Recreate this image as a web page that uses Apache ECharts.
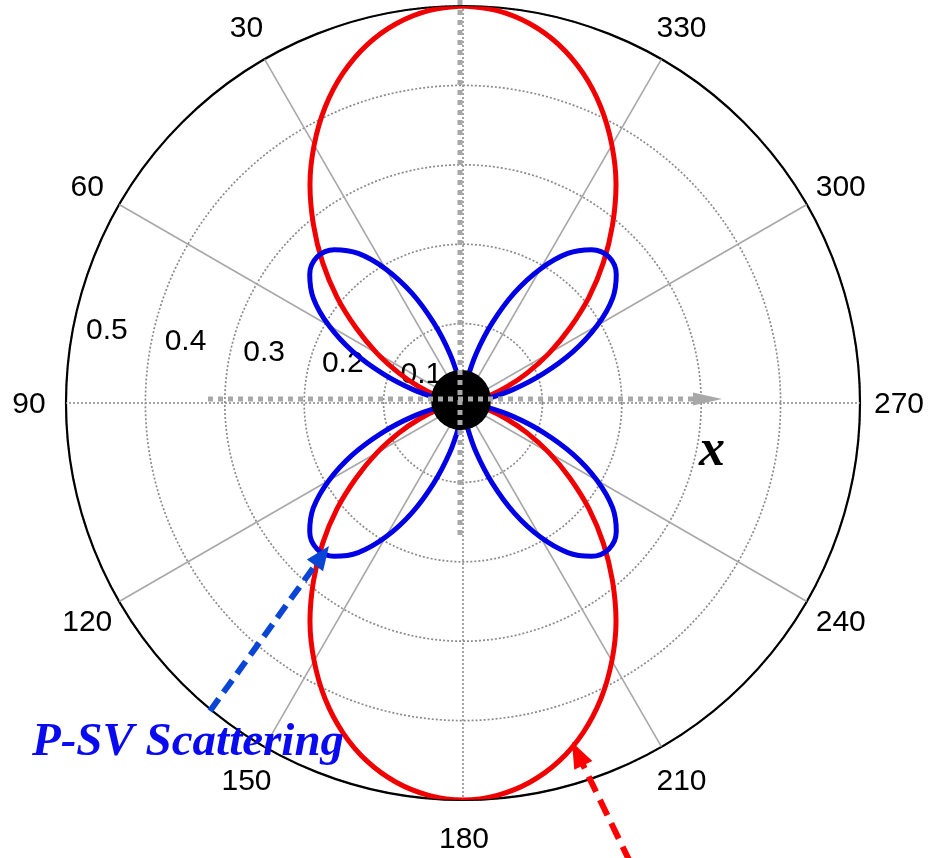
<!DOCTYPE html>
<html><head><meta charset="utf-8">
<script src="https://cdn.jsdelivr.net/npm/echarts@6/dist/echarts.min.js"></script>
<style>html,body{margin:0;padding:0;background:#fff}#c{width:930px;height:858px}</style>
</head><body><div id="c"></div>
<script>
// angles (degrees, counter-clockwise from top)
const angles = [0,5,10,15,20,25,30,35,40,45,50,55,60,65,70,75,80,85,90,
  95,100,105,110,115,120,125,130,135,140,145,150,155,160,165,170,175,180,
  185,190,195,200,205,210,215,220,225,230,235,240,245,250,255,260,265,270,
  275,280,285,290,295,300,305,310,315,320,325,330,335,340,345,350,355,360];
// P-P scattering (red)
const ppScattering = [0.5,0.496,0.485,0.467,0.442,0.411,0.375,0.336,0.293,0.25,0.207,0.164,0.125,0.089,0.058,0.033,0.015,0.004,0,
  0.004,0.015,0.033,0.058,0.089,0.125,0.164,0.207,0.25,0.293,0.336,0.375,0.411,0.442,0.467,0.485,0.496,0.5,
  0.496,0.485,0.467,0.442,0.411,0.375,0.336,0.293,0.25,0.207,0.164,0.125,0.089,0.058,0.033,0.015,0.004,0,
  0.004,0.015,0.033,0.058,0.089,0.125,0.164,0.207,0.25,0.293,0.336,0.375,0.411,0.442,0.467,0.485,0.496,0.5];
// P-SV scattering (blue)
const psvScattering = [0,0.008,0.030,0.065,0.107,0.153,0.195,0.230,0.252,0.26,0.252,0.230,0.195,0.153,0.107,0.065,0.030,0.008,0,
  0.008,0.030,0.065,0.107,0.153,0.195,0.230,0.252,0.26,0.252,0.230,0.195,0.153,0.107,0.065,0.030,0.008,0,
  0.008,0.030,0.065,0.107,0.153,0.195,0.230,0.252,0.26,0.252,0.230,0.195,0.153,0.107,0.065,0.030,0.008,0,
  0.008,0.030,0.065,0.107,0.153,0.195,0.230,0.252,0.26,0.252,0.230,0.195,0.153,0.107,0.065,0.030,0.008,0];
const angleTickLabels = [0,30,60,90,120,150,180,210,240,270,300,330];
const radiusTicks = [0.1,0.2,0.3,0.4,0.5];
const spokeAngles = [30,60,120,150,210,240,300,330];
const axisAngles = [0,90,180,270];
const radialLabelAngle = 82;
const labelFont = 'Liberation Sans, Arial, sans-serif';

const chart = echarts.init(document.getElementById('c'), null, {renderer:'canvas'});

function arrow(x0,y0,x1,y1,color,dash,w,headLen,headHalf){
  const dx=x1-x0, dy=y1-y0, L=Math.hypot(dx,dy), ux=dx/L, uy=dy/L;
  const bx=x1-ux*headLen, by=y1-uy*headLen, px=-uy, py=ux;
  return [
    {type:'line', z:30, shape:{x1:x0,y1:y0,x2:bx+ux*2,y2:by+uy*2}, style:{stroke:color,lineWidth:w,lineDash:dash}},
    {type:'polygon', z:31, shape:{points:[[x1,y1],[bx+px*headHalf,by+py*headHalf],[bx-px*headHalf,by-py*headHalf]]}, style:{fill:color}}
  ];
}

const spokeSeries = spokeAngles.map(a => ({
  type:'line', coordinateSystem:'polar', silent:true, symbol:'none', z:1,
  data:[[0,a],[0.5,a]], lineStyle:{color:'#a8a8a8', width:1.6}
})).concat(axisAngles.map(a => ({
  type:'line', coordinateSystem:'polar', silent:true, symbol:'none', z:1,
  data:[[0,a],[0.5,a]], lineStyle:{color:'#909090', width:1.6, type:[2,2]}
})));

const option = {
  backgroundColor:'#fff',
  animation:false,
  polar:{center:[463,403], radius:397},
  angleAxis:{
    type:'value', min:0, max:360, interval:30, startAngle:90, clockwise:false, z:1,
    axisLine:{show:true, lineStyle:{color:'#000', width:2.2}},
    axisTick:{show:false},
    splitLine:{show:false},
    axisLabel:{show:false}
  },
  radiusAxis:{
    type:'value', min:0, max:0.5, interval:0.1, z:0,
    axisLine:{show:false}, axisTick:{show:false}, axisLabel:{show:false},
    splitLine:{show:true, lineStyle:{color:'#8c8c8c', width:1.7, type:[2,2]}}
  },
  series: spokeSeries.concat([
    {type:'scatter', coordinateSystem:'polar', silent:true, z:2, symbolSize:1,
     itemStyle:{color:'rgba(255,255,255,0)'},
     data: radiusTicks.map(v => [v, radialLabelAngle]),
     label:{show:true, position:'inside', offset:[37,-17], formatter:p => String(p.value[0]),
       color:'#000', opacity:1, fontSize:30, fontFamily:labelFont}},
    {type:'scatter', coordinateSystem:'polar', silent:true, z:2, symbolSize:1,
     itemStyle:{color:'rgba(255,255,255,0)'},
     data: angleTickLabels.map(a => ({value:[0.5, a],
       label:{offset:[-Math.sin(a*Math.PI/180)*38 + 1, -Math.cos(a*Math.PI/180)*38 + 2]}})),
     label:{show:true, position:'inside', formatter:p => String(p.value[1]),
       align:'center', verticalAlign:'middle',
       color:'#000', opacity:1, fontSize:30, fontFamily:labelFont}},
    {type:'line', name:'P-P', coordinateSystem:'polar', symbol:'none', smooth:0.4, z:4,
     data: angles.map((a,i)=>[ppScattering[i], a]), lineStyle:{color:'#f00000', width:5}},
    {type:'line', name:'P-SV', coordinateSystem:'polar', symbol:'none', smooth:0.4, z:5,
     data: angles.map((a,i)=>[psvScattering[i], a]), lineStyle:{color:'#0000e6', width:5}}
  ]),
  graphic:[
    {type:'circle', z:20, shape:{cx:461, cy:400, r:30}, style:{fill:'#000'}},
    {type:'line', z:21, shape:{x1:460,y1:0,x2:460,y2:540}, style:{stroke:'#a8a8a8', lineWidth:5, lineDash:[5,5]}},
    {type:'line', z:21, shape:{x1:208,y1:399,x2:695,y2:399}, style:{stroke:'#a8a8a8', lineWidth:5, lineDash:[5,5]}},
    {type:'polygon', z:21, shape:{points:[[693,392.5],[722,399],[693,405.5]]}, style:{fill:'#a8a8a8'}},
    {type:'text', z:22, x:712, y:452, style:{text:'x', font:'italic bold 52px "Liberation Serif", "Times New Roman", serif', fill:'#000', align:'center', verticalAlign:'middle'}},
    {type:'text', z:22, x:32, y:743, style:{text:'P-SV Scattering', font:'italic bold 47px "Liberation Serif", "Times New Roman", serif', fill:'#0a0af0', align:'left', verticalAlign:'middle'}}
  ].concat(arrow(210,711,329,546,'#0b45d6',[15,8],6,24,10))
   .concat(arrow(630,862,572,742,'#ff0000',[17,9],6,26,10))
};
chart.setOption(option);
</script>
</body></html>
